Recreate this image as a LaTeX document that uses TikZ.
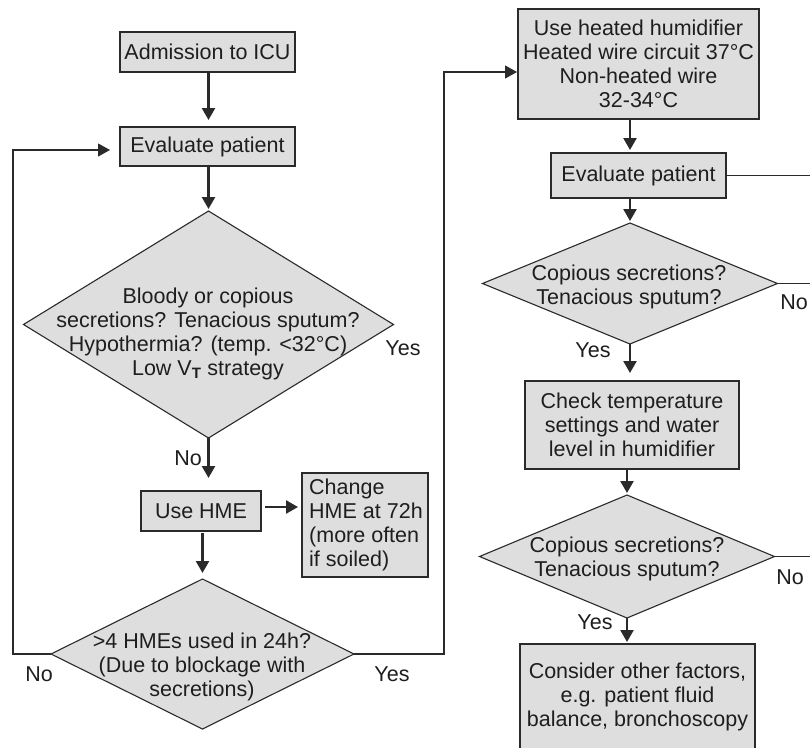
\documentclass[tikz,border=0pt]{standalone}
\usepackage{fontspec}
\setmainfont{Liberation Sans}
\usetikzlibrary{shapes.geometric,arrows.meta}
\definecolor{boxfill}{HTML}{DEDEDE}
\definecolor{ln}{HTML}{2A2A2A}
\definecolor{txt}{HTML}{1E1E1E}
\begin{document}
\begin{tikzpicture}[x=1pt,y=-1pt,
  every node/.style={font=\fontsize{21.5}{24}\selectfont, text=txt},
  box/.style={draw=ln, line width=1.2pt, fill=boxfill, inner sep=0pt, outer sep=0pt, align=center},
  dia/.style={diamond, draw=ln, line width=1.1pt, fill=boxfill, inner sep=0pt, outer sep=0pt},
  lab/.style={inner sep=0pt, align=center},
  arr/.style={draw=ln, line width=2.4pt, -{Triangle[length=12pt,width=13pt]}, shorten >=3pt},
  loopln/.style={draw=ln, line width=1.1pt},
  looparr/.style={loopln, -{Triangle[length=12pt,width=13pt]}},
]
\useasboundingbox (0,0) rectangle (810,747);
\clip (0,0) rectangle (810,747);

% left column
\node[box, minimum width=175pt, minimum height=40pt] (adm) at (207.5,52) {Admission to ICU};
\node[box, minimum width=175pt, minimum height=39pt] (ev1) at (207.5,146.5) {Evaluate patient};
\node[dia, minimum width=370pt, minimum height=227pt] (d1) at (208.5,324.5) {};
\node[lab] (d1t) at (208,334) {Bloody or copious\\secretions? Tenacious sputum?\\Hypothermia? (temp. <32°C)\\Low V\textsubscript{\textbf{T}} strategy};
\node[box, minimum width=120pt, minimum height=40pt] (hme) at (201,511) {Use HME};
\node[box, minimum width=126pt, minimum height=104pt] (chg) at (365,525) {};
\node[lab, align=left, anchor=west] (chgt) at (309,525) {Change\\HME at 72h\\(more often\\if soiled)};
\node[dia, minimum width=303pt, minimum height=150pt] (d2) at (202.5,654) {};
\node[lab] (d2t) at (202,667) {>4 HMEs used in 24h?\\(Due to blockage with\\secretions)};

% right column
\node[box, minimum width=241pt, minimum height=110pt] (heat) at (638.5,64) {Use heated humidifier\\Heated wire circuit 37°C\\Non-heated wire\\32-34°C};
\node[box, minimum width=175pt, minimum height=45pt] (ev2) at (638.5,175.5) {Evaluate patient};
\node[dia, minimum width=295pt, minimum height=121pt] (d3) at (630,283.5) {};
\node[lab] (d3t) at (629,287) {Copious secretions?\\Tenacious sputum?};
\node[box, minimum width=214pt, minimum height=88pt] (chk) at (632,425) {Check temperature\\settings and water\\level in humidifier};
\node[dia, minimum width=295pt, minimum height=123pt] (d4) at (627,556.5) {};
\node[lab] (d4t) at (627,559) {Copious secretions?\\Tenacious sputum?};
\node[box, minimum width=235pt, minimum height=132pt] (cons) at (637.5,710) {};
\node[lab] (const) at (637.5,697) {Consider other factors,\\e.g. patient fluid\\balance, bronchoscopy};

% labels
\node[lab] (y1) at (403,348) {Yes};
\node[lab] (n1) at (188,458) {No};
\node[lab] (n2) at (39,674) {No};
\node[lab] (y2) at (392,674) {Yes};
\node[lab] (n3) at (794,302) {No};
\node[lab] (y3) at (593,350) {Yes};
\node[lab] (n4) at (790,577) {No};
\node[lab] (y4) at (595,622) {Yes};

% arrows left
\draw[arr, shorten >=7pt] (adm.south -| d1.north) -- (ev1.north -| d1.north);
\draw[arr, shorten >=2pt] (ev1.south -| d1.north) -- (d1.north);
\draw[arr, shorten >=13pt] (d1.south) -- (d1.south |- hme.north);
\draw[arr, shorten <=4pt, shorten >=4pt] ([yshift=4pt]hme.east) -- ([yshift=4pt]hme.east -| chg.west);
\draw[arr, shorten <=2pt, shorten >=6pt] (hme.south -| d2.north) -- (d2.north);

% loops
\coordinate (lc) at (13,150);
\draw[looparr, shorten >=10pt] (d2.west) -| (lc) -- (lc -| ev1.west);
\coordinate (rc) at (444,72);
\draw[looparr, shorten >=1pt] (d2.east) -| (rc) -- (rc -| heat.west);

% arrows right
\draw[arr] (heat.south -| d3.north) -- (ev2.north -| d3.north);
\draw[arr, shorten >=2pt] (ev2.south -| d3.north) -- (d3.north);
\draw[arr, shorten >=8pt] (d3.south) -- (d3.south |- chk.north);
\draw[arr, shorten >=2pt] (chk.south -| d4.north) -- (d4.north);
\draw[arr, shorten >=2pt] (d4.south) -- (d4.south |- cons.north);

% right edge lines
\coordinate (e1) at (815,177);
\draw[loopln] (ev2.east) -- (ev2.east -| e1);
\draw[loopln] (d3.east) -- (d3.east -| e1);
\draw[loopln] (d4.east) -- (d4.east -| e1);
\end{tikzpicture}
\end{document}
